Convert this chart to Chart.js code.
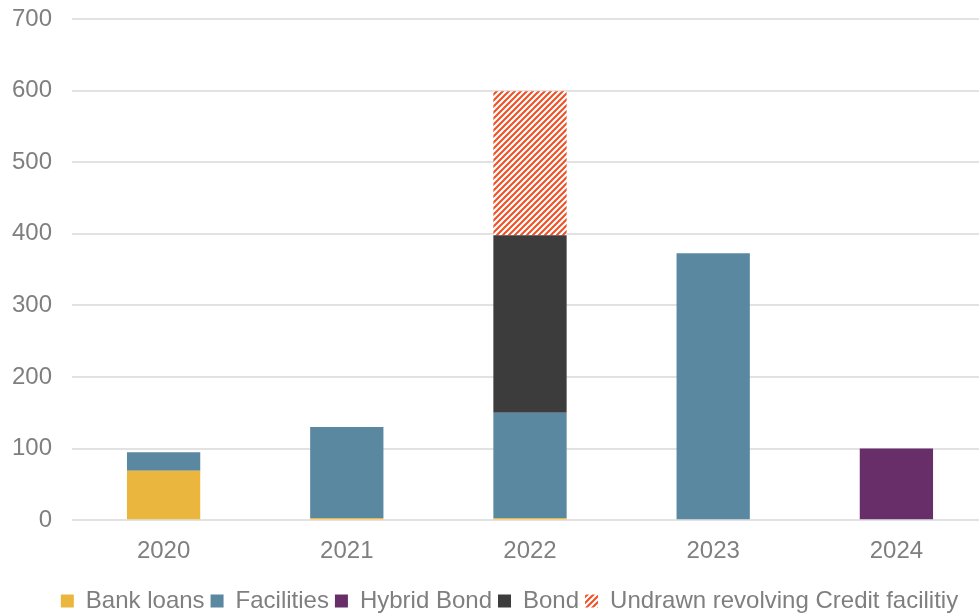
<!DOCTYPE html>
<html>
<head>
<meta charset="utf-8">
<script src="https://cdn.jsdelivr.net/npm/chart.js@4/dist/chart.umd.min.js"></script>
<style>
html,body{margin:0;padding:0;background:#fff;}
#wrap{width:979px;height:614px;position:relative;}
</style>
</head>
<body>
<div id="wrap"><canvas id="c"></canvas></div>
<script>
const categories = ['2020', '2021', '2022', '2023', '2024'];
const bankLoans = [69, 3, 3, null, null];
const facilities = [26, 127, 147, 373, null];
const hybridBond = [null, null, null, null, 100];
const bond = [null, null, 248, null, null];
const undrawnRCF = [null, null, 201, null, null];
const yTicks = [0, 100, 200, 300, 400, 500, 600, 700];

function hatch(color) {
  const s = 6;
  const p = document.createElement('canvas');
  p.width = s; p.height = s;
  const g = p.getContext('2d');
  g.fillStyle = '#ffffff';
  g.fillRect(0, 0, s, s);
  g.strokeStyle = color;
  g.lineWidth = 2;
  g.beginPath();
  g.moveTo(-1, s + 1); g.lineTo(s + 1, -1);
  g.moveTo(-1, 1); g.lineTo(1, -1);
  g.moveTo(s - 1, s + 1); g.lineTo(s + 1, s - 1);
  g.stroke();
  return g.createPattern(p, 'repeat');
}

const font = 'Liberation Sans, Arial, sans-serif';
const grey = '#7f7f7f';

const adjustLayout = {
  id: 'adjustLayout',
  afterLayout(chart) {
    const lg = chart.legend;
    if (lg) { lg.left += 20; lg.right += 20; }
    const x = chart.scales.x;
    x.right += 9; x.width += 9;
    x.configure();
  }
};

new Chart(document.getElementById('c'), {
  type: 'bar',
  data: {
    labels: categories,
    datasets: [
      { label: 'Bank loans', data: bankLoans, backgroundColor: '#EAB63E' },
      { label: 'Facilities', data: facilities, backgroundColor: '#5A88A0' },
      { label: 'Hybrid Bond', data: hybridBond, backgroundColor: '#682E69' },
      { label: 'Bond', data: bond, backgroundColor: '#3C3C3C' },
      { label: 'Undrawn revolving Credit facilitiy', data: undrawnRCF, backgroundColor: hatch('#F04E23') }
    ]
  },
  plugins: [adjustLayout],
  options: {
    responsive: true,
    maintainAspectRatio: false,
    animation: false,
    devicePixelRatio: 1,
    datasets: { bar: { barPercentage: 0.4, categoryPercentage: 1.0 } },
    layout: { padding: { top: 19, right: 0, left: 0, bottom: -9 } },
    plugins: {
      tooltip: { enabled: false },
      legend: {
        position: 'bottom',
        labels: {
          boxWidth: 13, boxHeight: 13, padding: 6,
          color: grey,
          font: { family: font, size: 24 }
        }
      }
    },
    scales: {
      x: {
        stacked: true,
        grid: { display: false, drawTicks: false },
        border: { display: false },
        ticks: { color: grey, font: { family: font, size: 24 }, padding: 17 }
      },
      y: {
        stacked: true,
        min: 0, max: 700,
        afterBuildTicks: (s) => { s.ticks = yTicks.map(v => ({ value: v })); },
        afterFit: (s) => { s.width = 72; s.paddingTop = 0; s.paddingBottom = 0; },
        grid: { color: '#e2e2e2', lineWidth: 2, drawTicks: false },
        border: { display: false },
        ticks: { color: grey, font: { family: font, size: 24 }, padding: 20 }
      }
    }
  }
});
</script>
</body>
</html>
